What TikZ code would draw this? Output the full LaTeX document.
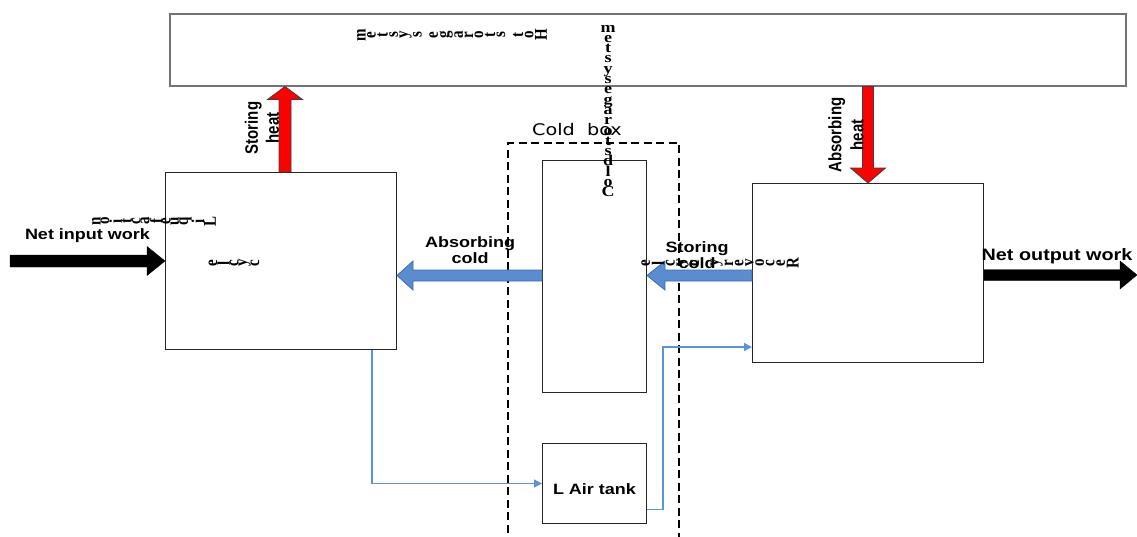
\documentclass[tikz,border=0pt]{standalone}
\usepackage{fontspec}
\usepackage{graphicx}
\usetikzlibrary{arrows.meta,calc}
\newfontfamily\arial{Liberation Sans}
\newfontfamily\tms{Liberation Serif}
\newfontfamily\dvs{DejaVu Sans}
\definecolor{flowblue}{HTML}{5B8BD0}
\definecolor{flowedge}{HTML}{3F6DA8}
\definecolor{lineblue}{HTML}{5D91DD}
\definecolor{heatred}{HTML}{FF0000}
\newcommand\wide[1]{\scalebox{1.2}[1]{#1}}
\newcommand\tall[1]{\scalebox{1}[1.2]{#1}}
% letters stacked with a fixed overlap (baseline to baseline)
\newcommand\vstk[1]{\vbox{\baselineskip=10.3pt\lineskiplimit=-\maxdimen\lineskip=0pt\halign{\hfil##\hfil\cr#1}}}
% letters stacked box to box, with a gap #1
\newcommand\gstk[2]{\vbox{\baselineskip=0pt\lineskiplimit=\maxdimen\lineskip=#1\halign{\hfil##\hfil\cr#2}}}
\newcommand\gap[1]{\noalign{\kern#1}}
\tikzset{
  box/.style={draw=black!85, line width=1pt, rectangle, inner sep=0pt, anchor=north west},
  hotbox/.style={draw=black!55, line width=1.5pt, rectangle, inner sep=0pt, anchor=north west},
  lab/.style={font={\arial\bfseries\fontsize{15}{16}\selectfont}, align=center, inner sep=0pt},
  rlab/.style={lab, rotate=90},
  garb/.style={font={\tms\bfseries\fontsize{15}{18}\selectfont}, inner sep=0pt},
  rgarb/.style={garb, rotate=90},
  redarrow/.style={fill=heatred, draw=black!75, line width=0.8pt, line join=miter},
  bluearrow/.style={fill=flowblue, draw=flowedge, line width=0.8pt, line join=miter},
  blackarrow/.style={fill=black, draw=black, line width=0.4pt},
  flowline/.style={draw=lineblue, line width=1.3pt, -{Triangle[length=8pt,width=8pt]}},
  coldline/.style={draw=black, line width=1.4pt, dash pattern=on 8pt off 4.5pt},
}
\begin{document}
\begin{tikzpicture}[x=1pt,y=-1pt]
\useasboundingbox (0,0) rectangle (1137,536);
% boxes
\node[hotbox, minimum width=956pt, minimum height=72pt] (hot) at (169,13) {};
\node[box, minimum width=231pt, minimum height=177pt] (liq) at (165,172) {};
\node[box, minimum width=104pt, minimum height=232pt] (cs) at (542,160) {};
\node[box, minimum width=104pt, minimum height=80pt] (tank) at (542,443) {};
\node[box, minimum width=231pt, minimum height=179pt] (rec) at (752,183) {};
% cold box (open at the bottom)
\draw[coldline] (508,545) -- (508,143) -- (679,143) -- (679,545);
\node[font={\dvs\fontsize{16}{18}\selectfont}, inner sep=0pt] (cbl) at (577,130) {\wide{Cold\ \ box}};
% reference levels
\coordinate (yac) at (0,275.5);
\coordinate (niS) at (10,261);
\coordinate (noT) at (1137,275);
% storing heat (up)
\coordinate (shB) at ($(liq.north west)+(120,0)$);
\coordinate (shT) at (shB |- hot.south);
\filldraw[redarrow] ($(shB)+(-6,0)$) -- ($(shT)+(-6,13)$) -- ($(shT)+(-17.5,13)$) -- (shT)
  -- ($(shT)+(17.5,13)$) -- ($(shT)+(6,13)$) -- ($(shB)+(6,0)$) -- cycle;
% absorbing heat (down)
\coordinate (ahT) at ($(rec.north west)+(116,0)$);
\coordinate (ahB) at (ahT |- hot.south);
\filldraw[redarrow] ($(ahB)+(-5.5,0)$) -- ($(ahT)+(-5.5,-15)$) -- ($(ahT)+(-17.5,-15)$) -- (ahT)
  -- ($(ahT)+(17.5,-15)$) -- ($(ahT)+(5.5,-15)$) -- ($(ahB)+(5.5,0)$) -- cycle;
% absorbing cold
\coordinate (acA) at (cs.west |- yac);
\coordinate (acT) at (liq.east |- yac);
\filldraw[bluearrow] ($(acA)+(0,-5.5)$) -- ($(acT)+(16,-5.5)$) -- ($(acT)+(16,-14.5)$) -- (acT)
  -- ($(acT)+(16,14.5)$) -- ($(acT)+(16,5.5)$) -- ($(acA)+(0,5.5)$) -- cycle;
% storing cold
\coordinate (scA) at (rec.west |- yac);
\coordinate (scT) at (cs.east |- yac);
\filldraw[bluearrow] ($(scA)+(0,-5.5)$) -- ($(scT)+(18,-5.5)$) -- ($(scT)+(18,-14.5)$) -- (scT)
  -- ($(scT)+(18,14.5)$) -- ($(scT)+(18,5.5)$) -- ($(scA)+(0,5.5)$) -- cycle;
% net input work
\coordinate (niT) at (liq.west |- niS);
\filldraw[blackarrow] ($(niS)+(0,-6)$) -- ($(niT)+(-18,-6)$) -- ($(niT)+(-18,-14.5)$) -- (niT)
  -- ($(niT)+(-18,14.5)$) -- ($(niT)+(-18,6)$) -- ($(niS)+(0,6)$) -- cycle;
% net output work
\coordinate (noS) at (rec.east |- noT);
\filldraw[blackarrow] ($(noS)+(0,-5.5)$) -- ($(noT)+(-17,-5.5)$) -- ($(noT)+(-17,-14)$) -- (noT)
  -- ($(noT)+(-17,14)$) -- ($(noT)+(-17,5.5)$) -- ($(noS)+(0,5.5)$) -- cycle;
% thin flow lines
\draw[flowline] ([xshift=-25pt]liq.south east) |- (tank.west);
\draw[flowline] ([yshift=-26pt]tank.east) -- ++(16,0) |- ([yshift=16pt]rec.south west);
% labels
\node[lab] (nil) at (87.5,236) {\wide{Net input work}};
\node[lab, font={\arial\bfseries\fontsize{16.5}{18}\selectfont}] (nol) at (1057,256) {\wide{Net output work}};
\node[lab] (acl) at (470,250) {\wide{Absorbing}\\\wide{cold}};
\node[lab] (scl) at (697,255) {\wide{Storing}\\\wide{cold}};
\node[rlab, font={\arial\bfseries\fontsize{15}{21}\selectfont}] (shl) at (262,128) {\tall{Storing}\\\tall{heat}};
\node[rlab, font={\arial\bfseries\fontsize{15}{22}\selectfont}] (ahl) at (846,135) {\tall{Absorbing}\\\tall{heat}};
\node[lab] (tankl) at ($(tank.center)+(0,6)$) {\wide{L Air tank}};
% garbled box titles, as the reference prints them
\node[rgarb] (hotl) at (452,35) {\tall{\gstk{1.3pt}{m\cr e\cr t\cr s\cr y\cr s\cr\gap{5pt} e\cr g\cr a\cr r\cr o\cr t\cr s\cr\gap{5pt} t\cr o\cr H\cr}}};
\node[garb] (csl) at (608,111) {\wide{\vstk{m\cr e\cr t\cr s\cr y\cr s\cr e\cr g\cr a\cr r\cr o\cr t\cr s\cr d\cr l\cr o\cr C\cr}}};
\node[rgarb] (liql) at (154,221) {\tall{\gstk{0pt}{n\cr o\cr i\cr t\cr c\cr a\cr f\cr e\cr u\cr q\cr i\cr L\cr}}};
\node[rgarb] (liqc) at (234,263) {\tall{\gstk{0pt}{e\cr l\cr c\cr y\cr c\cr}}};
\node[rgarb] (recl) at (720,263) {\tall{\gstk{1.5pt}{e\cr l\cr c\cr y\cr c\cr\gap{8pt} y\cr r\cr e\cr v\cr o\cr c\cr e\cr R\cr}}};
\end{tikzpicture}
\end{document}
